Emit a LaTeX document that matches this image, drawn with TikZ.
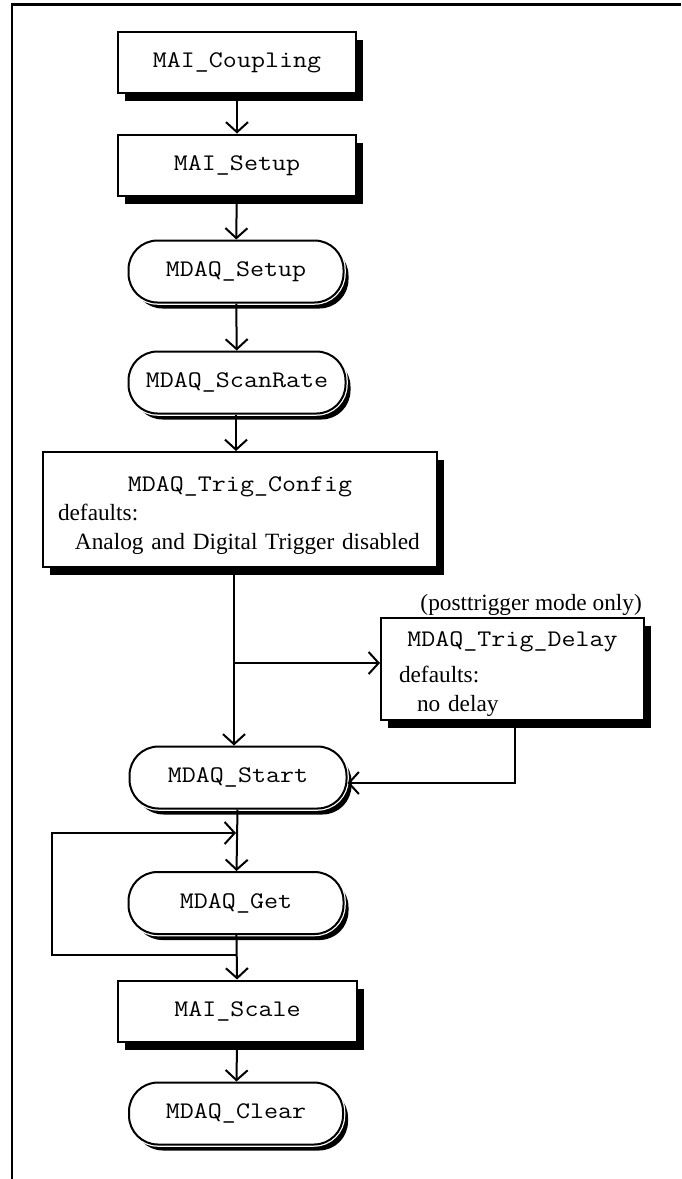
\documentclass[tikz,border=0pt]{standalone}
\usepackage{fontspec}
\setmainfont{Liberation Serif}
\setmonofont{Latin Modern Mono}[FakeStretch=1.143]
\usetikzlibrary{arrows.meta,shadows}

\newcommand\fname[1]{{\fontsize{23.8}{29}\selectfont\ttfamily #1}}

\begin{document}
\begin{tikzpicture}[x=1pt,y=1pt,
    flow/.style={line width=2pt,-{Straight Barb[length=10pt,width=22pt,line width=2pt]}},
    callbox/.style={draw,line width=2pt,fill=white,minimum width=238pt,minimum height=61pt,
      text height=15pt,text depth=5pt,font=\fontsize{23.8}{29}\selectfont\ttfamily,
      drop shadow={shadow xshift=7pt,shadow yshift=-8pt,fill=black,opacity=1}},
    daqcall/.style={draw,line width=2pt,fill=white,rounded corners=29pt,
      minimum width=215pt,minimum height=62pt,
      text height=15pt,text depth=5pt,font=\fontsize{23.8}{29}\selectfont\ttfamily,
      drop shadow={shadow xshift=5pt,shadow yshift=-6pt,fill=black,opacity=1},
      preaction={draw=white,line width=4.5pt}},
    cfgbox/.style={draw,line width=2pt,fill=white,align=left,
      font=\fontsize{23.3}{29}\selectfont,
      drop shadow={shadow xshift=7pt,shadow yshift=-8pt,fill=black,opacity=1}},
    note/.style={inner sep=0pt,font=\fontsize{23.3}{29}\selectfont}]

  \useasboundingbox (0,0) rectangle (681,-1179);

  % frame
  \draw[line width=2.2pt] (12,-1179) -- (12,-4.5) -- (681,-4.5);

  % main column
  \node[callbox] (coupling) at (237,-62) {MAI\_Coupling};
  \node[callbox] (aisetup) at (237,-165) {MAI\_Setup};
  \node[daqcall] (daqsetup) at (236,-271.5) {MDAQ\_Setup};
  \node[daqcall, minimum width=217pt] (scanrate) at (237,-382.5) {MDAQ\_ScanRate};

  \node[cfgbox, minimum width=394pt, minimum height=115pt, inner xsep=15pt,
        text width=364pt] (trigcfg) at (240,-509.5)
    {\makebox[364pt]{\rule{0pt}{28pt}\fname{MDAQ\_Trig\_Config}}\\
     defaults:\\
     \hspace*{17pt}Analog and Digital Trigger disabled};

  \node[cfgbox, minimum width=263pt, minimum height=102pt, inner xsep=18pt,
        text width=227pt] (trigdelay) at (512.5,-669)
    {\makebox[227pt]{\rule{0pt}{26pt}\fname{MDAQ\_Trig\_Delay}}\\[7pt]
     defaults:\\
     \hspace*{18pt}no delay};
  \node[note, anchor=base east] (mode) at (642,-610) {(posttrigger mode only)};

  \node[daqcall, minimum width=217pt] (start) at (238,-777.5) {MDAQ\_Start};
  \node[daqcall] (get) at (236,-903) {MDAQ\_Get};
  \node[callbox, minimum width=239pt] (scale) at (237.5,-1011) {MAI\_Scale};
  \node[daqcall, minimum width=214pt] (clear) at (236,-1113.5) {MDAQ\_Clear};

  % connectors
  \draw[flow] (coupling) -- (aisetup);
  \draw[flow] (aisetup) -- (daqsetup);
  \draw[flow] (daqsetup) -- (scanrate);
  \draw[flow] (scanrate.south -| 236,0) -- (trigcfg.north -| 236,0);

  \coordinate (fork) at (234,-663);
  \draw[flow] (trigcfg.south -| fork) -- (start.north -| fork);
  \draw[flow] (fork) -- (fork -| trigdelay.west);
  \draw[flow] (trigdelay.south -| 515,0) |- (start.east |- 0,-783);

  \draw[flow] (start) -- (get);

  % scan loop
  \coordinate (loopin) at (236,-833);
  \coordinate (loopout) at (236,-955);
  \draw[flow] (loopout) -- (52,-955) -- (52,-833) -- (loopin);

  \draw[flow] (get) -- (scale);
  \draw[flow] (scale) -- (clear);
\end{tikzpicture}
\end{document}
